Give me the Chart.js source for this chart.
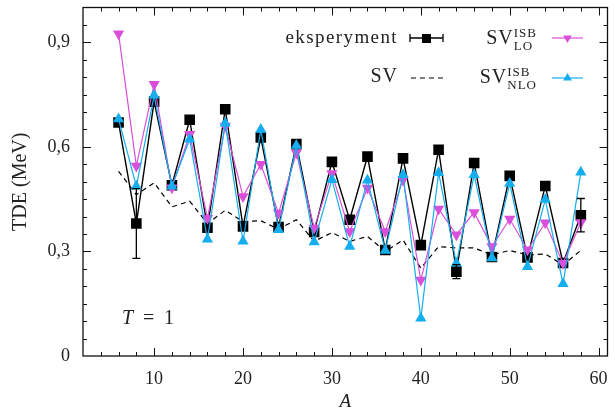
<!DOCTYPE html>
<html lang="pl">
<head>
  <meta charset="UTF-8">
  <title>TDE, T = 1</title>
  <script src="https://cdn.jsdelivr.net/npm/chart.js"></script>
  <style>
    body { margin: 0; background: #fff; }
    canvas { display: block; }
  </style>
</head>
<body>
  <canvas id="tdeChart" width="615" height="411"></canvas>

  <script>
    // --- data ---
    const massNumbers = [6, 8, 10, 12, 14, 16, 18, 20, 22, 24, 26, 28, 30, 32, 34, 36, 38, 40, 42, 44, 46, 48, 50, 52, 54, 56, 58];
    const experiment = [0.67, 0.38, 0.73, 0.49, 0.678, 0.368, 0.708, 0.372, 0.627, 0.37, 0.608, 0.356, 0.557, 0.391, 0.572, 0.304, 0.567, 0.318, 0.592, 0.242, 0.554, 0.284, 0.517, 0.283, 0.488, 0.267, 0.404];
    const experimentErr = [0, 0.1, 0, 0, 0, 0, 0, 0, 0, 0, 0, 0, 0, 0, 0, 0, 0, 0, 0, 0.02, 0, 0, 0, 0, 0, 0, 0.048];
    const svValues = [0.53, 0.463, 0.497, 0.428, 0.444, 0.38, 0.418, 0.386, 0.388, 0.364, 0.391, 0.329, 0.354, 0.329, 0.343, 0.30, 0.333, 0.252, 0.314, 0.31, 0.31, 0.29, 0.303, 0.29, 0.293, 0.261, 0.303];
    const svIsbLO = [0.925, 0.545, 0.78, 0.483, 0.636, 0.395, 0.66, 0.458, 0.55, 0.41, 0.583, 0.367, 0.524, 0.357, 0.482, 0.357, 0.506, 0.218, 0.422, 0.348, 0.412, 0.314, 0.393, 0.305, 0.382, 0.266, 0.383];
    const svIsbNLO = [0.68, 0.487, 0.748, 0.487, 0.622, 0.335, 0.668, 0.329, 0.65, 0.362, 0.604, 0.327, 0.506, 0.314, 0.504, 0.303, 0.52, 0.108, 0.526, 0.266, 0.52, 0.281, 0.495, 0.256, 0.449, 0.207, 0.527];
    const xTicks = [10, 20, 30, 40, 50, 60];
    const yTicks = [0, 0.3, 0.6, 0.9];

    const FONT = '"Liberation Serif", "DejaVu Serif", serif';
    const MAGENTA = '#d94fd9';
    const CYAN = '#14aeee';

    const pts = (ys) => massNumbers.map((a, i) => ({ x: a, y: ys[i] }));

    const noPad = (s) => { s.paddingTop = 0; s.paddingBottom = 0; s.paddingLeft = 0; s.paddingRight = 0; };

    // frame, inward ticks on all four sides, error bars, legend, T = 1
    const decorations = {
      id: 'decorations',
      afterDatasetsDraw(chart) {
        const ctx = chart.ctx;
        const xs = chart.scales.x, ys = chart.scales.y;
        ctx.save();
        ctx.strokeStyle = '#000';
        ctx.lineWidth = 1.3;
        experiment.forEach((v, i) => {
          const e = experimentErr[i];
          if (!e) return;
          const px = xs.getPixelForValue(massNumbers[i]);
          const top = ys.getPixelForValue(v + e), bot = ys.getPixelForValue(v - e);
          ctx.beginPath();
          ctx.moveTo(px, top); ctx.lineTo(px, bot);
          ctx.moveTo(px - 4, top); ctx.lineTo(px + 4, top);
          ctx.moveTo(px - 4, bot); ctx.lineTo(px + 4, bot);
          ctx.stroke();
        });
        ctx.restore();
      },
      afterDraw(chart) {
        const ctx = chart.ctx;
        const { left, right, top, bottom } = chart.chartArea;
        const xs = chart.scales.x, ys = chart.scales.y;
        ctx.save();
        ctx.strokeStyle = '#111';
        ctx.lineWidth = 1.3;
        ctx.strokeRect(left, top, right - left, bottom - top);

        ctx.lineWidth = 1;
        ctx.beginPath();
        for (let a = 4; a <= 60; a += 2) {
          const px = Math.round(xs.getPixelForValue(a)) + 0.5;
          const len = a % 10 === 0 ? 8 : 4;
          ctx.moveTo(px, bottom); ctx.lineTo(px, bottom - len);
          ctx.moveTo(px, top); ctx.lineTo(px, top + len);
        }
        for (let k = 1; k <= 19; k++) {
          const v = k * 0.05;
          const py = Math.round(ys.getPixelForValue(v)) + 0.5;
          const len = k % 6 === 0 ? 8 : 4;
          ctx.moveTo(left, py); ctx.lineTo(left + len, py);
          ctx.moveTo(right, py); ctx.lineTo(right - len, py);
        }
        ctx.stroke();

        // legend
        ctx.fillStyle = '#222';
        ctx.textAlign = 'right';
        ctx.textBaseline = 'middle';
        ctx.letterSpacing = '1.4px';
        ctx.font = '19px ' + FONT;
        ctx.fillText('eksperyment', 398, 38);
        ctx.letterSpacing = '1px';
        ctx.font = '20px ' + FONT;
        ctx.fillText('SV', 398, 77);
        ctx.letterSpacing = '0px';

        ctx.strokeStyle = '#000';
        ctx.lineWidth = 1.3;
        ctx.beginPath();
        ctx.moveTo(410, 38); ctx.lineTo(443, 38);
        ctx.moveTo(410, 34); ctx.lineTo(410, 42);
        ctx.moveTo(443, 34); ctx.lineTo(443, 42);
        ctx.stroke();
        ctx.fillStyle = '#000';
        ctx.fillRect(422, 34, 9, 9);

        ctx.setLineDash([5, 4]);
        ctx.lineWidth = 1.2;
        ctx.beginPath();
        ctx.moveTo(411, 78); ctx.lineTo(443, 78);
        ctx.stroke();
        ctx.setLineDash([]);

        const subsup = (base, sup, sub, y) => {
          ctx.textAlign = 'left';
          ctx.textBaseline = 'alphabetic';
          ctx.letterSpacing = '1px';
          ctx.font = '20px ' + FONT;
          const wBase = ctx.measureText(base).width;
          ctx.font = '13px ' + FONT;
          const wSup = ctx.measureText(sup).width, wSub = ctx.measureText(sub).width;
          const x0 = 537 - wBase - Math.max(wSup, wSub);
          ctx.fillStyle = '#222';
          ctx.font = '20px ' + FONT;
          ctx.fillText(base, x0, y);
          ctx.font = '13px ' + FONT;
          ctx.fillText(sup, x0 + wBase, y - 7);
          ctx.fillText(sub, x0 + wBase, y + 6);
          ctx.letterSpacing = '0px';
        };
        subsup('SV', 'ISB', 'LO', 44);
        subsup('SV', 'ISB', 'NLO', 83);

        const tri = (cx, cy, r, down, color) => {
          const s = down ? -1 : 1;
          ctx.fillStyle = color;
          ctx.beginPath();
          ctx.moveTo(cx, cy - s * r);
          ctx.lineTo(cx - r * 0.87, cy + s * r * 0.5);
          ctx.lineTo(cx + r * 0.87, cy + s * r * 0.5);
          ctx.closePath();
          ctx.fill();
        };
        ctx.lineWidth = 1.2;
        ctx.strokeStyle = MAGENTA;
        ctx.beginPath(); ctx.moveTo(552, 38); ctx.lineTo(583, 38); ctx.stroke();
        tri(567.5, 38, 5, true, MAGENTA);
        ctx.strokeStyle = CYAN;
        ctx.beginPath(); ctx.moveTo(552, 78); ctx.lineTo(583, 78); ctx.stroke();
        tri(567.5, 78, 5, false, CYAN);

        // T = 1
        ctx.fillStyle = '#222';
        ctx.textAlign = 'left';
        ctx.textBaseline = 'alphabetic';
        ctx.font = 'italic 20px ' + FONT;
        ctx.fillText('T', 122, 324);
        ctx.font = '20px ' + FONT;
        ctx.fillText('=', 143, 324);
        ctx.fillText('1', 164, 324);
        ctx.restore();
      }
    };

    new Chart(document.getElementById('tdeChart'), {
      type: 'line',
      data: {
        datasets: [
          {
            label: 'SV_NLO^ISB',
            data: pts(svIsbNLO),
            borderColor: CYAN,
            backgroundColor: CYAN,
            borderWidth: 1.2,
            pointStyle: 'triangle',
            pointRadius: 6.5,
            pointBorderWidth: 0,
            order: 0
          },
          {
            label: 'SV_LO^ISB',
            data: pts(svIsbLO),
            borderColor: MAGENTA,
            backgroundColor: MAGENTA,
            borderWidth: 1.2,
            pointStyle: 'triangle',
            pointRotation: 180,
            pointRadius: 6.5,
            pointBorderWidth: 0,
            order: 1
          },
          {
            label: 'eksperyment',
            data: pts(experiment),
            borderColor: '#000',
            backgroundColor: '#000',
            borderWidth: 1.4,
            pointStyle: 'rect',
            pointRadius: 7.5,
            pointBorderWidth: 0,
            order: 2
          },
          {
            label: 'SV',
            data: pts(svValues),
            borderColor: '#000',
            borderWidth: 1.2,
            borderDash: [5, 4],
            pointRadius: 0,
            order: 3
          }
        ]
      },
      options: {
        responsive: false,
        animation: false,
        layout: { padding: { left: 0, right: 7, top: 7, bottom: 0 } },
        plugins: { legend: { display: false }, tooltip: { enabled: false } },
        scales: {
          x: {
            type: 'linear',
            min: 2,
            max: 61,
            grid: { display: false, drawTicks: false },
            border: { display: false },
            afterBuildTicks: (s) => { s.ticks = xTicks.map(v => ({ value: v })); },
            afterFit: (s) => { s.height = 55; noPad(s); },
            ticks: {
              padding: 12,
              maxRotation: 0,
              color: '#222',
              font: { family: FONT, size: 18 }
            },
            title: {
              display: true,
              text: 'A',
              color: '#222',
              font: { family: FONT, size: 19, style: 'italic', lineHeight: 0.55 }
            }
          },
          y: {
            min: 0,
            max: 1.0,
            grid: { display: false, drawTicks: false },
            border: { display: false },
            afterBuildTicks: (s) => { s.ticks = yTicks.map(v => ({ value: v })); },
            afterFit: (s) => { s.width = 83; noPad(s); },
            ticks: {
              padding: 13,
              color: '#222',
              font: { family: FONT, size: 18 },
              callback: (v) => String(Math.round(v * 10) / 10).replace('.', ',')
            },
            title: {
              display: true,
              text: 'TDE (MeV)',
              color: '#222',
              font: { family: FONT, size: 20, lineHeight: 1.7 }
            }
          }
        }
      },
      plugins: [decorations]
    });
  </script>
</body>
</html>
